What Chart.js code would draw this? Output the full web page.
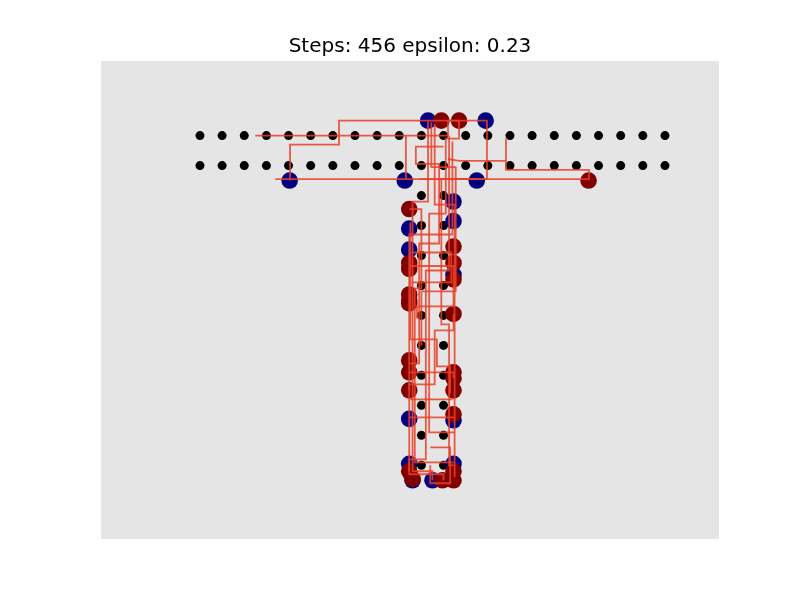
<!DOCTYPE html>
<html><head><meta charset="utf-8">
<script src="https://cdn.jsdelivr.net/npm/chart.js@4"></script>
<style>html,body{margin:0;padding:0;background:#fff}#wrap{width:800px;height:600px}</style>
</head><body><div id="wrap"><canvas id="c" width="800" height="600"></canvas></div>
<script>
const titleText = 'Steps: 456 epsilon: 0.23';
// grid (black dots)
const rowX = [0,1,2,3,4,5,6,7,8,9,10,11,12,13,14,15,16,17,18,19,20,21];
const rowY = [0,1];
const colX = [10,11];
const colY = [2,3,4,5,6,7,8,9,10,11];
// agents
const blueX = [10.3,12.9,4.05,9.25,12.5,11.45,11.45,9.45,9.45,11.45,9.45,11.45,9.45,11.45,9.6,10.5];
const blueY = [-0.5,-0.5,1.5,1.5,1.5,2.2,2.85,3.1,3.8,4.65,9.45,9.5,10.95,10.95,11.5,11.5];
const redX = [10.9,11.7,17.55,9.45,11.45,9.45,9.45,11.45,11.45,9.45,9.45,9.45,11.45,9.45,9.45,11.45,11.45,9.45,11.45,11.45,9.45,11.45,9.6,10.95,11.45];
const redY = [-0.5,-0.5,1.5,2.45,3.7,4.25,4.45,4.25,4.8,5.3,5.5,5.6,5.95,7.5,7.9,7.9,8.1,8.5,8.5,9.3,11.2,11.2,11.45,11.5,11.5];
// trajectories
const pathXs = [
  [2.5,9.3,11.2,11.2,11.7],
  [9.3,9.3],
  [4.07,4.07,6.28,6.28,12.96,12.96,9.9],
  [3.4,17.57,17.57,13.82,13.82],
  [11.2,11.7,13.82],
  [10.3,10.3,9.6,9.6,10.5,10.5],
  [10.6,10.6,11.5,11.5],
  [11.0,11.0,9.75,9.75,10.8,10.8,9.9,9.9,9.45],
  [11.25,11.25,10.2,10.2,9.45,9.45],
  [11.4,11.4,9.45,9.45,11.0,11.0],
  [12.5,10.9,10.9,11.25,11.25,11.45],
  [9.45,10.0,10.0,9.7,9.7,11.45],
  [11.45,11.45,10.6,10.6,9.45,9.45],
  [9.45,11.45,11.45],
  [10.4,11.3,11.3,10.4,10.4],
  [9.45,11.5],
  [9.5,11.4],
  [10.45,10.45,11.55,11.55,10.0,10.0],
  [9.55,11.35,11.35,9.55],
  [11.7,11.7,11.1,11.1,10.35,10.35,11.5],
  [9.5,9.5,10.7,10.7,11.3,11.3],
  [9.45,11.45,11.45,9.8,9.8]
];
const pathYs = [
  [0,0,0,-0.5,-0.5],
  [0,1.45],
  [1.5,0.3,0.3,-0.5,-0.5,1.45,1.45],
  [1.45,1.45,1.14,1.14,0.1],
  [0.78,0.84,0.84],
  [-0.5,2.2,2.2,11.2,11.2,11.5],
  [-0.4,2.3,2.3,11.4],
  [0.37,0.37,0.37,0.94,0.94,3.6,3.6,7.6,7.6],
  [0,4.5,4.5,10.8,10.8,11.2],
  [0.2,3.3,3.3,11.3,11.3,11.5],
  [1.44,1.44,6.3,6.3,11.0,11.0],
  [2.45,2.45,5.1,5.1,10.9,10.9],
  [5.95,6.5,6.5,8.3,8.3,8.5],
  [7.9,7.9,8.1],
  [10.4,10.4,11.6,11.6,11.0],
  [9.4,9.4],
  [8.8,8.8],
  [-0.45,1.05,1.05,5.2,5.2,7.0],
  [3.9,3.9,4.9,4.9],
  [-0.5,0.1,0.1,2.6,2.6,9.9,9.9],
  [2.9,6.8,6.8,7.7,7.7,8.6],
  [4.35,4.35,5.7,5.7,6.1]
];

const pts = (xs, ys) => xs.map((x, i) => ({x: x, y: ys[i]}));
const gridPts = [];
rowY.forEach(y => rowX.forEach(x => gridPts.push({x, y})));
colY.forEach(y => colX.forEach(x => gridPts.push({x, y})));

const datasets = [];
pathXs.forEach((xs, k) => datasets.push({
  data: pts(xs, pathYs[k]), showLine: true, borderColor: 'rgba(234,64,40,0.85)',
  borderWidth: 1.8, pointRadius: 0, fill: false, order: 0, tension: 0
}));
datasets.push({data: pts(redX, redY), backgroundColor: '#800000', pointRadius: 8.3, pointBorderWidth: 0, borderWidth: 0, showLine: false, order: 1});
datasets.push({data: pts(blueX, blueY), backgroundColor: '#000080', pointRadius: 8.3, pointBorderWidth: 0, borderWidth: 0, showLine: false, order: 2});
datasets.push({data: gridPts, backgroundColor: '#000000', pointRadius: 4.5, pointBorderWidth: 0, borderWidth: 0, showLine: false, order: 3});

const bgPlugin = {
  id: 'bg',
  beforeDatasetsDraw(chart) {
    const a = chart.chartArea, ctx = chart.ctx;
    ctx.save(); ctx.fillStyle = '#e5e5e5';
    ctx.fillRect(a.left, a.top, a.right - a.left, a.bottom - a.top);
    ctx.restore();
  }
};

new Chart(document.getElementById('c'), {
  type: 'scatter',
  data: {datasets},
  options: {
    responsive: false, animation: false,
    layout: {padding: {left: 101, right: 81, top: 0, bottom: 61}},
    scales: {
      x: {type: 'linear', min: -4.47, max: 23.44, display: false},
      y: {type: 'linear', min: -2.49, max: 13.46, reverse: true, display: false}
    },
    plugins: {
      legend: {display: false}, tooltip: {enabled: false},
      title: {display: true, text: titleText, color: '#000',
        font: {family: 'DejaVu Sans', size: 20, weight: 'normal'},
        padding: {top: 35, bottom: 2}}
    },
    elements: {point: {hitRadius: 0}}
  },
  plugins: [bgPlugin]
});
</script></body></html>
